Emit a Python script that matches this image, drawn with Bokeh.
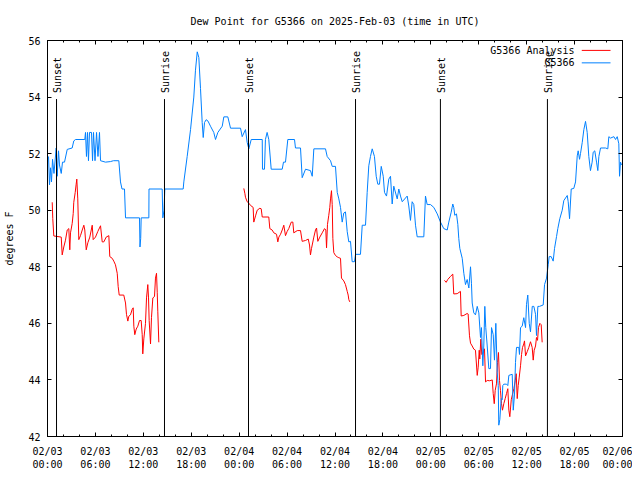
import math
from bokeh.plotting import figure
from bokeh.models import Range1d, FixedTicker, LinearAxis, Label
from bokeh.embed import file_html
from bokeh.resources import INLINE
from bokeh.core.properties import value

FONT = "DejaVu Sans Mono"

title_text = "Dew Point for G5366 on 2025-Feb-03 (time in UTC)"
y_label = "degrees F"

# x positions are hours since 2025-02-03 00:00 UTC
tick_hours = [0, 6, 12, 18, 24, 30, 36, 42, 48, 54, 60, 66, 72]
tick_labels = ["02/03\n00:00", "02/03\n06:00", "02/03\n12:00", "02/03\n18:00",
               "02/04\n00:00", "02/04\n06:00", "02/04\n12:00", "02/04\n18:00",
               "02/05\n00:00", "02/05\n06:00", "02/05\n12:00", "02/05\n18:00",
               "02/06\n00:00"]
minor_hours = [2, 4, 8, 10, 14, 16, 20, 22, 26, 28, 32, 34, 38, 40, 44, 46, 50, 52, 56, 58, 62, 64, 68, 70]
y_ticks = [42, 44, 46, 48, 50, 52, 54, 56]

sun_hours = [1.13, 14.65, 25.17, 38.57, 49.2, 62.6]
sun_labels = ["Sunset", "Sunrise", "Sunset", "Sunrise", "Sunset", "Sunrise"]

# G5366 observations
obs_hours = [0.13, 0.25, 0.38, 0.5, 0.63, 0.81, 1.09, 1.21, 1.38, 1.5, 1.72, 1.88, 2.13, 2.47,
             3.09, 3.29, 3.51, 4.67, 4.76, 4.88, 5.01, 5.13, 5.26, 5.51, 5.64, 5.76, 5.95, 6.14,
             6.32, 6.51, 6.64, 7.26, 7.89, 8.26, 8.93, 9.14, 9.33, 9.64, 9.77, 11.52, 11.58, 11.67,
             11.73, 12.69, 12.71, 14.36, 14.44, 14.59, 14.69, 16.99, 17.07, 17.49, 17.91, 18.32,
             18.53, 18.75, 18.95, 19.16, 19.37, 19.5, 19.66, 19.87, 20.1, 20.41, 20.82, 21.04,
             21.33, 21.88, 22.08, 22.58, 22.92, 24.17, 24.38, 24.79, 25.0, 25.21, 25.51, 26.89,
             26.92, 27.17, 27.29, 27.5, 27.71, 28.01, 29.39, 29.55, 29.8, 30.09, 30.93, 31.05,
             31.68, 31.89, 32.31, 32.93, 33.15, 33.35, 34.81, 35.02, 35.44, 35.65, 36.06, 36.28,
             36.48, 36.69, 36.9, 37.1, 37.31, 37.53, 37.73, 37.94, 38.15, 38.44, 38.57, 39.19,
             39.41, 39.82, 40.03, 40.23, 40.44, 40.66, 40.94, 41.16, 41.36, 41.57, 41.79, 42.04,
             42.2, 42.45, 42.74, 42.95, 43.16, 43.36, 43.79, 43.99, 44.2, 44.42, 45.04, 45.24,
             45.45, 45.66, 45.87, 46.08, 46.29, 47.12, 47.33, 47.54, 47.96, 48.37, 48.8, 49.21,
             49.62, 50.05, 50.25, 50.55, 50.75, 50.87, 51.0, 51.21, 51.38, 51.5, 51.63, 51.93,
             52.13, 52.34, 52.55, 52.76, 52.97, 53.09, 53.18, 53.38, 53.59, 53.81, 54.01, 54.22,
             54.34, 54.51, 54.63, 54.76, 54.88, 55.06, 55.26, 55.47, 55.6, 55.81, 55.97, 56.14,
             56.31, 56.44, 56.51, 56.64, 56.81, 56.94, 57.01, 57.14, 57.48, 57.64, 57.77, 58.19,
             58.32, 58.48, 58.6, 58.73, 59.02, 59.1, 59.23, 59.44, 59.64, 59.86, 59.98, 60.14,
             60.32, 60.48, 60.7, 60.9, 61.11, 61.23, 61.4, 61.61, 62.07, 62.24, 62.49, 62.7,
             62.82, 63.07, 63.32, 63.49, 63.74, 63.9, 64.15, 64.45, 64.65, 65.08, 65.2, 65.37,
             65.58, 65.9, 66.12, 66.33, 66.45, 66.62, 66.74, 66.96, 67.16, 67.37, 67.58, 67.78,
             67.99, 68.2, 68.33, 68.53, 68.75, 68.91, 69.04, 69.25, 69.87, 70.16, 70.29, 70.5,
             70.92, 71.13, 71.34, 71.54, 71.63, 71.75, 71.88]
obs_vals = [51.9, 50.9, 51.5, 51.0, 51.8, 51.3, 52.2, 51.2, 52.1, 51.6, 51.3, 51.7, 51.7, 52.15,
            52.2, 52.45, 52.5, 52.5, 52.75, 51.9, 52.75, 51.75, 52.75, 52.75, 51.75, 52.75, 51.75, 52.75,
            51.9, 52.75, 51.75, 51.7, 51.72, 51.75, 51.75, 51.0, 50.75, 50.75, 49.73, 49.73, 48.7, 49.0,
            49.73, 49.73, 50.75, 50.75, 49.73, 50.0, 50.75, 50.75, 51.0, 51.9, 52.85, 54.0,
            54.95, 55.6, 55.4, 54.3, 53.1, 52.57, 53.1, 53.2, 53.15, 52.97, 52.75, 52.5,
            52.75, 52.97, 53.3, 53.3, 52.9, 52.9, 52.6, 52.85, 52.4, 52.17, 52.5, 52.5,
            51.45, 51.45, 52.5, 52.75, 52.5, 51.45, 51.45, 51.7, 51.7, 52.5, 52.5, 52.2,
            52.2, 51.15, 51.45, 51.4, 51.2, 52.17, 52.17, 51.9, 51.75, 51.55, 51.55, 50.63,
            50.4, 50.1, 49.58, 49.9, 49.94, 49.24, 48.88, 48.9, 48.18, 48.18, 48.44, 48.44,
            49.47, 49.47, 50.63, 51.57, 51.9, 52.17, 51.9, 51.2, 50.92, 50.92, 51.55, 51.2,
            50.63, 50.5, 51.1, 51.2, 50.22, 50.85, 50.4, 50.75, 50.5, 50.3, 50.5, 50.15,
            49.64, 50.3, 50.2, 49.47, 49.06, 49.06, 50.5, 50.2, 50.2, 50.1, 49.87, 49.58,
            49.35, 49.3, 49.58, 49.93, 50.22, 50.1, 49.82, 49.87, 49.5, 49.0, 48.65, 48.3,
            47.77, 47.37, 47.55, 47.25, 48.0, 47.4, 46.72, 46.37, 46.3, 46.6, 46.37, 45.5,
            45.85, 44.5, 45.2, 46.6, 45.85, 45.2, 44.4, 44.4, 45.85, 45.6, 44.7, 46.0,
            44.27, 43.8, 42.4, 42.6, 43.34, 43.3, 43.8, 43.85, 43.85, 43.8, 44.16, 44.2,
            42.93, 43.5, 44.62, 45.15, 45.15, 44.9, 45.85, 45.9, 46.2, 45.85, 46.67, 47.0,
            46.0, 45.7, 46.6, 46.6, 46.32, 45.57, 46.6, 46.6, 46.65, 47.37, 47.6, 48.07,
            48.36, 48.36, 48.2, 48.65, 49.07, 49.35, 49.7, 50.0, 50.34, 50.52, 50.3, 49.7,
            50.75, 50.77, 51.0, 51.92, 52.1, 51.8, 52.0, 52.4, 52.85, 53.14, 52.75, 51.9,
            51.4, 51.7, 52.05, 52.1, 51.7, 51.4, 51.9, 52.2, 52.2, 52.17, 52.6, 52.55,
            52.6, 52.5, 52.6, 52.35, 51.2, 51.7, 51.6]

# G5366 Analysis (three runs)
ana1_hours = [0.59, 0.66, 0.79, 1.72, 1.84, 2.04, 2.25, 2.47, 2.67, 2.79, 2.88, 3.09, 3.22, 3.29,
              3.47, 3.59, 3.67, 3.79, 3.92, 4.13, 4.35, 4.55, 4.67, 4.85, 5.05, 5.3, 5.6, 5.72,
              6.01, 6.3, 6.64, 6.85, 7.05, 7.35, 7.68, 7.8, 8.1, 8.3, 8.51, 8.73, 8.85, 8.98,
              9.55, 9.77, 9.89, 10.06, 10.18, 10.39, 10.61, 10.73, 10.81, 10.93, 11.11, 11.31,
              11.52, 11.73, 11.86, 11.93, 12.06, 12.27, 12.4, 12.56, 12.65, 12.73, 12.9, 13.02,
              13.19, 13.4, 13.52, 13.65, 13.74, 13.81, 13.94]
ana1_vals = [50.28, 49.7, 49.09, 49.05, 48.42, 48.7, 48.94, 49.3, 49.35, 48.6, 49.2, 49.53, 49.88, 50.28,
             50.63, 50.92, 51.1, 50.4, 48.96, 49.1, 49.3, 49.47, 49.3, 48.6, 48.85, 49.05, 49.47, 48.96,
             49.05, 49.25, 49.45, 48.88, 48.88, 49.05, 49.1, 48.36, 48.3, 48.2, 48.07, 47.77, 47.3, 47.0,
             47.0, 46.72, 46.32, 46.08, 46.25, 46.3, 46.5, 46.55, 45.9, 45.6, 45.8, 45.9,
             46.1, 46.1, 45.6, 44.92, 45.45, 46.0, 46.9, 47.37, 46.9, 46.1, 45.27, 46.2,
             46.9, 46.95, 47.6, 47.77, 47.1, 46.43, 45.33]
ana2_hours = [24.58, 24.71, 24.79, 25.0, 25.21, 25.42, 25.75, 25.83, 26.05, 26.26, 26.59, 26.76, 26.89,
              27.71, 27.84, 28.13, 28.34, 28.68, 28.84, 28.97, 29.18, 29.39, 29.59, 29.8, 30.01, 30.21,
              30.52, 30.72, 30.84, 31.27, 31.68, 31.89, 32.31, 32.65, 32.81, 32.93, 33.06, 33.35, 33.56,
              33.69, 33.85, 34.1, 34.4, 34.69, 34.85, 34.94, 35.06, 35.22, 35.35, 35.44, 35.56, 35.65,
              35.73, 35.85, 36.06, 36.28, 36.48, 36.69, 36.81, 37.1, 37.31, 37.53, 37.65, 37.73, 37.85]
ana2_vals = [50.77, 50.6, 50.46, 50.3, 50.25, 50.17, 50.1, 49.58, 49.8, 50.0, 50.07, 50.05, 49.76,
             49.76, 49.35, 49.3, 49.2, 49.15, 48.88, 49.05, 49.15, 49.3, 49.47, 49.1, 49.25, 49.35,
             49.58, 49.58, 49.2, 49.28, 49.28, 48.9, 48.93, 48.98, 48.77, 48.42, 48.65, 49.05, 49.3,
             49.37, 48.9, 49.05, 49.2, 49.35, 49.3, 48.67, 49.5, 49.82, 50.1, 50.4, 50.69, 50.2,
             49.0, 48.5, 48.4, 48.35, 48.32, 48.3, 47.6, 47.5, 47.37, 47.13, 47.0, 46.84, 46.76]
ana3_hours = [49.71, 49.92, 50.12, 50.46, 50.75, 50.87, 51.3, 51.71, 51.8, 52.13, 52.55, 52.67, 52.84,
              52.97, 53.18, 53.38, 53.59, 53.81, 53.93, 54.06, 54.13, 54.26, 54.38, 54.51, 54.72, 54.85,
              55.06, 55.38, 55.69, 55.81, 55.94, 56.06, 56.22, 56.35, 56.47, 56.6, 56.72, 56.85, 56.97,
              57.14, 57.31, 57.48, 57.64, 57.77, 57.89, 58.07, 58.23, 58.4, 58.57, 58.69, 58.82, 58.94,
              59.07, 59.23, 59.36, 59.48, 59.64, 59.73, 59.86, 60.07, 60.27, 60.48, 60.69, 60.82, 60.94,
              61.11, 61.23, 61.36, 61.48, 61.65, 61.82, 61.94]
ana3_vals = [47.52, 47.45, 47.55, 47.66, 47.74, 47.04, 47.05, 47.13, 46.26, 46.28, 46.35, 46.33, 45.56,
             45.3, 45.2, 45.09, 45.05, 44.16, 44.45, 45.05, 44.74, 45.44, 44.9, 44.95, 45.1, 43.93,
             43.98, 43.97, 44.0, 43.52, 43.16, 43.63, 43.86, 44.62, 44.97, 43.98, 43.63, 43.16, 42.93,
             43.16, 43.34, 43.52, 43.69, 42.93, 42.7, 43.3, 43.5, 43.69, 43.97, 44.22, 43.34, 43.8,
             44.1, 44.5, 44.9, 45.15, 45.27, 45.38, 44.85, 45.0, 45.15, 45.35, 45.15, 44.7, 45.05,
             45.2, 45.5, 45.4, 45.85, 46.0, 45.95, 45.33]

series_names = ["G5366 Analysis", "G5366"]
series_colors = ["#ff0000", "#0080ff"]

p = figure(width=632, height=472, output_backend="svg", toolbar_location=None,
           x_range=Range1d(0, 72), y_range=Range1d(42, 56),
           min_border_left=47, min_border_right=10, min_border_top=40, min_border_bottom=32,
           title=title_text, background_fill_color="white", border_fill_color="white")
p.title.align = "center"
p.title.text_font = FONT
p.title.text_font_size = "10px"
p.title.text_font_style = "normal"
p.title.text_color = "black"
p.title.standoff = 27
p.grid.visible = False
p.outline_line_color = "black"

xt = FixedTicker(ticks=tick_hours, minor_ticks=minor_hours)
yt = FixedTicker(ticks=y_ticks)

def style_axis(ax, minor=True):
    ax.axis_line_color = "black"
    ax.major_tick_line_color = "black"
    ax.major_tick_in = 4
    ax.major_tick_out = 0
    ax.minor_tick_in = 2
    ax.minor_tick_out = 0
    ax.minor_tick_line_color = "black" if minor else None
    ax.major_label_text_font = FONT
    ax.major_label_text_font_size = "10px"
    ax.major_label_text_color = "black"
    ax.axis_label_text_font = FONT
    ax.axis_label_text_font_size = "10px"
    ax.axis_label_text_font_style = "normal"
    ax.axis_label_text_color = "black"

xa = p.xaxis[0]
xa.ticker = xt
xa.major_label_overrides = {h: lab for h, lab in zip(tick_hours, tick_labels)}
style_axis(xa)
xa.major_label_standoff = 9

ya = p.yaxis[0]
ya.ticker = yt
style_axis(ya, minor=False)
ya.major_label_standoff = 7
ya.axis_label = y_label
ya.axis_label_standoff = 10

# mirrored tick marks on top and right (no labels)
top = LinearAxis(ticker=xt)
style_axis(top)
top.major_label_overrides = {h: "" for h in tick_hours}
top.major_label_standoff = 0
p.add_layout(top, "above")
right = LinearAxis(ticker=yt)
style_axis(right, minor=False)
right.major_label_overrides = {v: "" for v in y_ticks}
right.major_label_standoff = 0
p.add_layout(right, "right")

# analysis first, observations on top
for hrs, vals in [(ana1_hours, ana1_vals), (ana2_hours, ana2_vals), (ana3_hours, ana3_vals)]:
    p.line(hrs, vals, line_color=series_colors[0], line_width=1)
p.line(obs_hours, obs_vals, line_color=series_colors[1], line_width=1)

# sunrise / sunset markers
sun_top = 53.93
p.segment(x0=sun_hours, y0=[42] * len(sun_hours), x1=sun_hours, y1=[sun_top] * len(sun_hours),
          line_color="black", line_width=1)
p.text(x=sun_hours, y=[sun_top] * len(sun_hours), text=sun_labels, angle=math.pi / 2,
       text_align="left", text_baseline="middle", y_offset=-6, x_offset=1,
       text_font=value(FONT), text_font_size="10px", text_color="black")

# key (gnuplot style: label, then line sample)
key_rows = [55.65, 55.21]
for name, col, yk in zip(series_names, series_colors, key_rows):
    p.add_layout(Label(x=66.0, y=yk, text=name, text_align="right", text_baseline="middle",
                       text_font=FONT, text_font_size="10px", text_color="black"))
    p.segment(x0=[66.9], y0=[yk], x1=[70.5], y1=[yk], line_color=col, line_width=1)

open("out.html", "w").write(file_html(p, INLINE))
